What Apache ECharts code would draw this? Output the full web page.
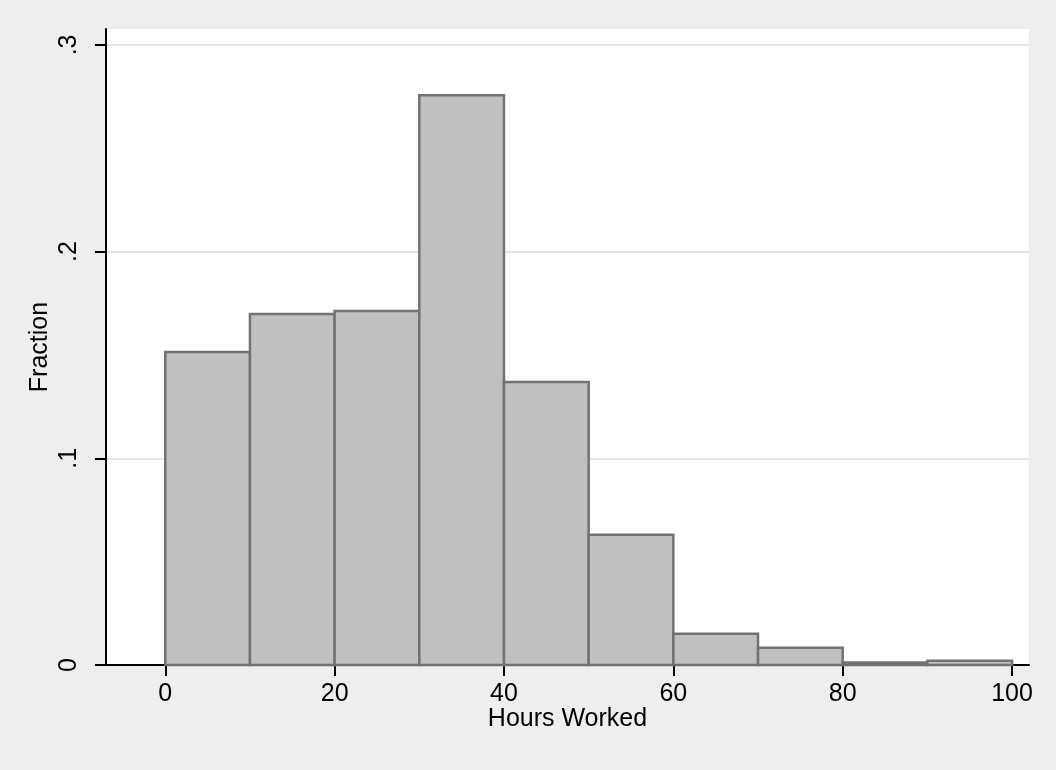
<!DOCTYPE html>
<html>
<head>
<meta charset="utf-8">
<script src="https://cdn.jsdelivr.net/npm/echarts@6/dist/echarts.min.js"></script>
<style>
    html, body { margin: 0; padding: 0; background: #eeeeee; }
    #chart { width: 1056px; height: 770px; }
</style>
</head>
<body>
<div id="chart"></div>
<script>
// histogram bins (hours worked), width 10
const binStarts = [0, 10, 20, 30, 40, 50, 60, 70, 80, 90];
const binWidth = 10;
const fractions = [0.1514, 0.1698, 0.1713, 0.2757, 0.1369, 0.0630, 0.0151, 0.0084, 0.0012, 0.0020];

const xTicks = [0, 20, 40, 60, 80, 100];
const yTicks = [0, 0.1, 0.2, 0.3];

const chart = echarts.init(document.getElementById("chart"));

const textFont = "Liberation Sans, Arial, sans-serif";

chart.setOption({
    animation: false,
    backgroundColor: "#eeeeee",
    grid: {
        left: 106,
        right: 27,
        top: 29,
        bottom: 105,
        show: true,
        backgroundColor: "#ffffff",
        borderWidth: 0,
    },
    xAxis: {
        type: "value",
        min: -7,
        max: 102,
        name: "Hours Worked",
        nameLocation: "middle",
        nameGap: 42,
        nameMoveOverlap: false,
        nameTextStyle: { color: "#000", fontSize: 25, fontFamily: textFont },
        axisLine: { show: true, onZero: false, lineStyle: { color: "#000", width: 2 } },
        axisTick: {
            show: true,
            length: 11,
            customValues: xTicks,
            lineStyle: { color: "#000", width: 2 },
        },
        axisLabel: {
            customValues: xTicks,
            color: "#000",
            fontSize: 25,
            fontFamily: textFont,
            margin: 17,
        },
        splitLine: { show: false },
    },
    yAxis: {
        type: "value",
        min: 0,
        max: 0.3077,
        name: "Fraction",
        nameLocation: "middle",
        nameGap: 53,
        nameMoveOverlap: false,
        nameRotate: 90,
        nameTextStyle: { color: "#000", fontSize: 25, fontFamily: textFont },
        axisLine: { show: true, onZero: false, lineStyle: { color: "#000", width: 2 } },
        axisTick: {
            show: true,
            length: 11,
            customValues: yTicks,
            lineStyle: { color: "#000", width: 2 },
        },
        axisLabel: {
            customValues: yTicks,
            rotate: 90,
            color: "#000",
            fontSize: 25,
            fontFamily: textFont,
            margin: 24,
            formatter: (v) => (v === 0 ? "0" : String(Math.round(v * 10) / 10).replace(/^0/, "")),
        },
        splitLine: {
            show: true,
            showMinLine: false,
            lineStyle: { color: "#e6e6e6", width: 2 },
        },
    },
    series: [
        {
            type: "custom",
            data: binStarts.map((s, i) => [s, s + binWidth, fractions[i]]),
            encode: { x: [0, 1], y: 2 },
            renderItem: (params, api) => {
                const p0 = api.coord([api.value(0), api.value(2)]);
                const p1 = api.coord([api.value(1), 0]);
                return {
                    type: "rect",
                    shape: { x: p0[0], y: p0[1], width: p1[0] - p0[0], height: p1[1] - p0[1] },
                    style: { fill: "#c0c0c0", stroke: "#727272", lineWidth: 2.5 },
                };
            },
        },
    ],
});
</script>
</body>
</html>
